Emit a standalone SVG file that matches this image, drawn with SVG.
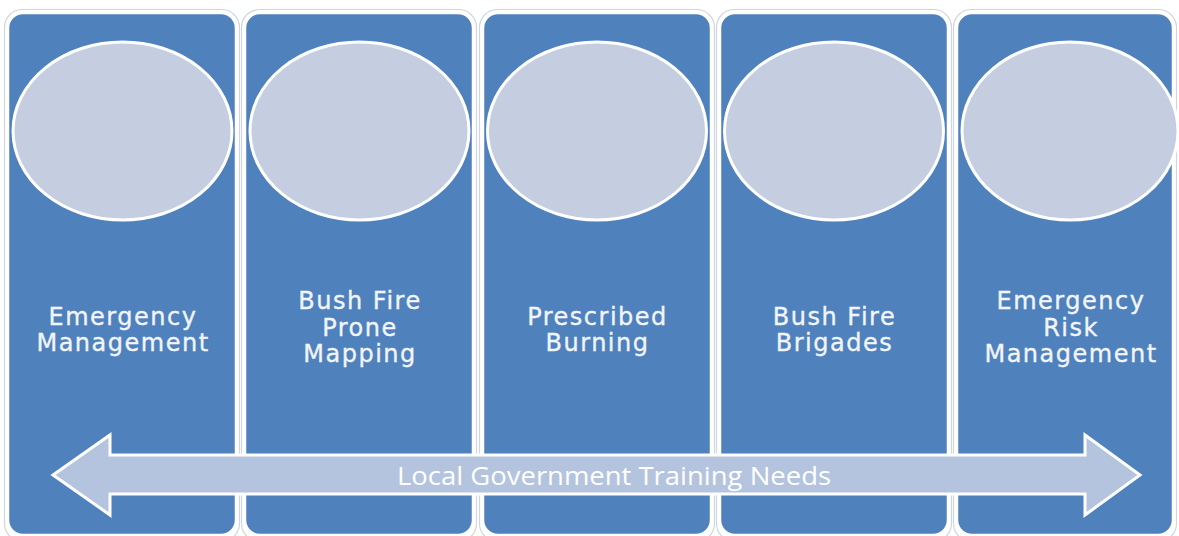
<svg xmlns="http://www.w3.org/2000/svg" width="1179" height="536" viewBox="0 0 1179 536">
  <style>
    .frame { fill: none; stroke: #cfd6e0; stroke-width: 1.2; }
    .panel { fill: #4f81bd; stroke: #ffffff; stroke-width: 2.5; }
    .disc { fill: #c5cee1; stroke: #ffffff; stroke-width: 3; }
    .label { font-family: "DejaVu Sans", sans-serif; font-size: 24px; letter-spacing: 1.5px; fill: #f2f5fa; stroke: #f2f5fa; stroke-width: 0.35; text-anchor: middle; }
    .band { fill: #b4c4de; stroke: #ffffff; stroke-width: 3; stroke-linejoin: miter; }
    .bandtext { font-family: "Open Sans", sans-serif; font-size: 25px; fill: #ffffff; }
  </style>
  <rect width="1179" height="536" fill="#ffffff"/>

  <g id="col-emergency-management">
    <rect class="frame" x="4.5" y="9.5" width="235" height="532" rx="18"/>
    <rect class="panel" x="8" y="13" width="228" height="522" rx="15"/>
    <ellipse class="disc" cx="122.5" cy="131" rx="109.5" ry="89"/>
    <text class="label" x="123" y="325">Emergency</text>
    <text class="label" x="123" y="351">Management</text>
  </g>

  <g id="col-bush-fire-prone-mapping">
    <rect class="frame" x="241.5" y="9.5" width="235" height="532" rx="18"/>
    <rect class="panel" x="245" y="13" width="228" height="522" rx="15"/>
    <ellipse class="disc" cx="359.5" cy="131" rx="109.5" ry="89"/>
    <text class="label" x="360" y="309">Bush Fire</text>
    <text class="label" x="360" y="336">Prone</text>
    <text class="label" x="360" y="362">Mapping</text>
  </g>

  <g id="col-prescribed-burning">
    <rect class="frame" x="479.5" y="9.5" width="235" height="532" rx="18"/>
    <rect class="panel" x="483" y="13" width="228" height="522" rx="15"/>
    <ellipse class="disc" cx="597" cy="131" rx="109.5" ry="89"/>
    <text class="label" x="597.5" y="325">Prescribed</text>
    <text class="label" x="597.5" y="351">Burning</text>
  </g>

  <g id="col-bush-fire-brigades">
    <rect class="frame" x="716.5" y="9.5" width="235" height="532" rx="18"/>
    <rect class="panel" x="720" y="13" width="228" height="522" rx="15"/>
    <ellipse class="disc" cx="834" cy="131" rx="109.5" ry="89"/>
    <text class="label" x="834.5" y="325">Bush Fire</text>
    <text class="label" x="834.5" y="351">Brigades</text>
  </g>

  <g id="col-emergency-risk-management">
    <rect class="frame" x="953.5" y="9.5" width="223" height="532" rx="18"/>
    <rect class="panel" x="957" y="13" width="216" height="522" rx="15"/>
    <ellipse class="disc" cx="1070" cy="131" rx="108" ry="89"/>
    <text class="label" x="1071" y="309">Emergency</text>
    <text class="label" x="1071" y="336">Risk</text>
    <text class="label" x="1071" y="362">Management</text>
  </g>

  <g id="connectors">
    <path class="band" d="M53,475 L110,435 L110,455 L1085,455 L1085,435 L1140,475 L1085,515 L1085,494 L110,494 L110,515 Z"/>
    <text class="bandtext" x="397" y="485" textLength="434" lengthAdjust="spacingAndGlyphs">Local Government Training Needs</text>
  </g>
</svg>
